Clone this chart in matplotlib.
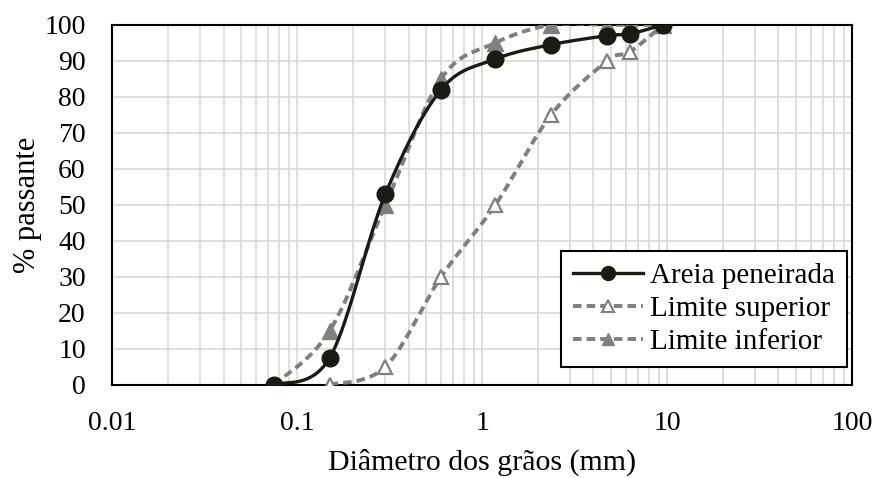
import numpy as np
import matplotlib
matplotlib.use("Agg")
import matplotlib.pyplot as plt
from matplotlib.ticker import LogLocator, FixedLocator, NullFormatter
from matplotlib.lines import Line2D

plt.rcParams['font.family'] = ['Liberation Serif', 'DejaVu Serif']

sieves = [0.075, 0.15, 0.3, 0.6, 1.18, 2.36, 4.75, 6.3, 9.5]
areia = [0, 7.5, 53, 82, 90.5, 94.5, 97, 97.5, 100]
sup_x = [0.15, 0.3, 0.6, 1.18, 2.36, 4.75, 6.3, 9.5]
sup_y = [0, 5, 30, 50, 75, 90, 92.5, 100]
inf_x = [0.075, 0.15, 0.3, 0.6, 1.18, 2.36, 4.75, 6.3, 9.5]
inf_y = [0, 15, 50, 85, 95, 100, 100, 100, 100]

x_ticks = [0.01, 0.1, 1, 10, 100]
x_labels = ["0.01", "0.1", "1", "10", "100"]
y_ticks = list(range(0, 101, 10))


def smooth(xs, ys, n=40):
    lx = np.log10(np.asarray(xs, float))
    y = np.asarray(ys, float)
    P = np.column_stack([lx, y])
    out = [P[0]]
    m = len(P)
    for i in range(m - 1):
        p0 = P[i - 1] if i > 0 else P[i]
        p1 = P[i]
        p2 = P[i + 1]
        p3 = P[i + 2] if i + 2 < m else P[i + 1]
        c1 = p1 + (p2 - p0) / 6.0
        c2 = p2 - (p3 - p1) / 6.0
        t = np.linspace(0, 1, n)[1:, None]
        seg = ((1 - t) ** 3) * p1 + 3 * ((1 - t) ** 2) * t * c1 + 3 * (1 - t) * t ** 2 * c2 + t ** 3 * p2
        out.extend(seg)
    out = np.array(out)
    return 10 ** out[:, 0], out[:, 1]


fig = plt.figure(figsize=(8.83, 4.78), dpi=100)
ax = fig.add_axes([0.127, 0.195, 0.838, 0.753])

fs_tick = 20
fs = 21.5
gray = '#7f7f7f'
dark = '#1c1a14'
dash = (0, (2.2, 1.3))

sx, sy = smooth(sup_x, sup_y)
ax.plot(sx, sy, color=gray, lw=2.8, ls=dash, zorder=3)
ax.plot(sup_x, sup_y, ls='none', marker='^', ms=10, mfc='white', mec=gray, mew=1.6, zorder=4)

ix, iy = smooth(inf_x, inf_y)
ax.plot(ix, iy, color=gray, lw=2.8, ls=dash, zorder=3)
ax.plot(inf_x, inf_y, ls='none', marker='^', ms=11, mfc=gray, mec=gray, zorder=4)

ax_, ay_ = smooth(sieves, areia)
ax.plot(ax_, ay_, color=dark, lw=2.4, zorder=5)
ax.plot(sieves, areia, ls='none', marker='o', ms=12, mfc=dark, mec=dark, zorder=6)

ax.set_xscale('log')
ax.set_xlim(0.01, 100)
ax.set_ylim(0, 100)
ax.xaxis.set_major_locator(FixedLocator(x_ticks))
ax.set_xticklabels(x_labels)
ax.xaxis.set_minor_locator(LogLocator(base=10, subs=np.arange(2, 10), numticks=20))
ax.xaxis.set_minor_formatter(NullFormatter())
ax.set_yticks(y_ticks)

ax.grid(True, which='major', color='#d9d9d9', lw=1.2, zorder=0)
ax.grid(True, which='minor', axis='x', color='#d9d9d9', lw=1.2, zorder=0)
ax.set_axisbelow(True)
ax.tick_params(which='both', length=0, labelsize=fs_tick)
ax.tick_params(axis='y', pad=19)
ax.tick_params(axis='x', pad=19)
for s in ax.spines.values():
    s.set_color('black')
    s.set_linewidth(1.5)

ax.set_xlabel('Diâmetro dos grãos (mm)', fontsize=fs, labelpad=9)
ax.set_ylabel('% passante', fontsize=22, labelpad=2)

handles = [
    Line2D([], [], color=dark, lw=2.4, marker='o', ms=10, mfc=dark, mec=dark),
    Line2D([], [], color=gray, lw=2.8, ls=dash, marker='^', ms=8, mfc='white', mec=gray, mew=1.5),
    Line2D([], [], color=gray, lw=2.8, ls=dash, marker='^', ms=9, mfc=gray, mec=gray),
]
leg = ax.legend(handles, ['Areia peneirada', 'Limite superior', 'Limite inferior'],
                loc='lower right', bbox_to_anchor=(0.993, 0.05), fontsize=21, frameon=True,
                fancybox=False, edgecolor='black', framealpha=1, handlelength=2.4,
                handletextpad=0.25, borderpad=0.4, labelspacing=0.22, borderaxespad=0)
leg.get_frame().set_linewidth(1.5)

fig.savefig('out.png', dpi=100)
